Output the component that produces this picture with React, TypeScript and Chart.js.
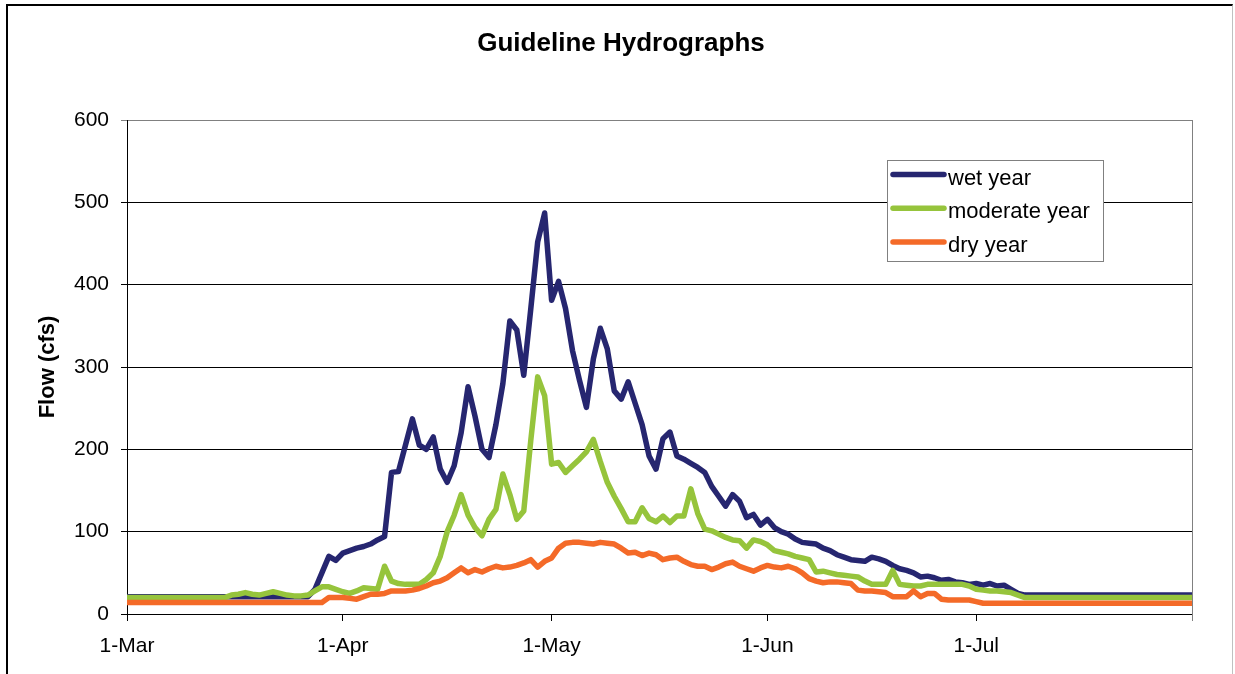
import React, { useEffect, useRef } from "react";
import { Chart, registerables } from "chart.js";

Chart.register(...registerables);

const chartTitle = "Guideline Hydrographs";
const yAxisTitle = "Flow (cfs)";
const seriesNames = ["wet year", "moderate year", "dry year"];
const seriesColors = ["#262670", "#96c43c", "#f46a28"];

const xTickDays = [0, 31, 61, 92, 122, 153];
const xTickLabels = ["1-Mar", "1-Apr", "1-May", "1-Jun", "1-Jul", ""];

// daily flow (cfs), day 0 = 1-Mar ... day 153 = 1-Aug
const wetYear = [
  21, 21, 21, 21, 21, 21, 21, 21, 21, 21, 21, 21, 21, 21, 21, 21, 21, 21, 21, 21, 21, 21, 21, 21, 21, 21, 21,
  30, 50, 70, 65, 74, 77, 80, 82, 85, 90, 94, 172, 173, 205, 237, 205, 200, 215, 176, 160, 180, 220, 276,
  240, 200, 190, 230, 280, 356, 345, 290, 370, 452, 487, 381, 404, 371, 320, 284, 251, 310, 347, 322,
  271, 261, 282, 256, 230, 192, 176, 213, 221, 192, 188, 183, 178, 172, 155, 143, 131, 145, 137, 117,
  121, 108, 115, 105, 100, 97, 91, 87, 86, 85, 80, 77, 72, 69, 66, 65, 64, 69, 67, 64,
  59, 55, 53, 50, 45, 46, 44, 41, 42, 39, 38, 36, 37, 35, 37, 34, 35, 30, 25,
  23, 23, 23, 23, 23, 23, 23, 23, 23, 23, 23, 23, 23, 23, 23, 23, 23, 23, 23, 23, 23, 23, 23, 23, 23,
];

const moderateYear = [
  20, 20, 20, 20, 20, 20, 20, 20, 20, 20, 20, 20, 20, 20, 20,
  23, 24, 26, 24, 23, 25, 27, 25, 23, 22, 22, 23, 28, 33, 33, 30, 27, 25, 28, 32, 31, 30, 58, 40, 37,
  36, 36, 36, 42, 50, 70, 100, 120, 145, 120, 105, 95, 115, 127, 170, 145, 115, 125, 210, 288,
  265, 182, 184, 172, 180, 188, 197, 212, 185, 160, 143, 128, 112, 112, 129, 116, 112, 119, 111, 119,
  119, 152, 122, 103, 101, 97, 93, 90, 89, 80, 90, 88, 84, 77, 75, 73, 70, 68, 66, 51,
  52, 50, 48, 47, 46, 45, 40, 36, 36, 36, 53, 36, 35, 34, 34, 36, 36, 36, 36, 36,
  36, 34, 30, 29, 28, 28, 27, 26, 23,
  20, 20, 20, 20, 20, 20, 20, 20, 20, 20, 20, 20, 20, 20, 20, 20, 20, 20, 20, 20, 20, 20, 20, 20, 20,
];

const dryYear = [
  14, 14, 14, 14, 14, 14, 14, 14, 14, 14, 14, 14, 14, 14, 14, 14, 14, 14, 14, 14, 14, 14, 14, 14, 14, 14, 14, 14, 14,
  20, 20, 20, 19, 18, 21, 24, 24, 25, 28, 28, 28, 29, 31, 34, 38, 40, 44, 50, 56, 50,
  54, 51, 55, 58, 56, 57, 59, 62, 66, 57, 64, 68, 80, 86, 87, 87, 86, 85, 87, 86,
  85, 80, 74, 75, 71, 74, 72, 66, 68, 69, 64, 60, 58, 58, 54, 57, 61, 63, 58, 55,
  52, 56, 59, 57, 56, 58, 55, 50, 43, 40, 38, 39, 39, 38, 37, 29, 28, 28, 27, 26,
  21, 21, 21, 28, 21, 25, 25, 18, 17, 17, 17, 17, 15,
  13, 13, 13, 13, 13, 13, 13, 13, 13, 13, 13, 13, 13, 13, 13, 13, 13, 13, 13, 13, 13, 13, 13, 13, 13, 13, 13, 13, 13, 13, 13,
];

const allSeries = [wetYear, moderateYear, dryYear];

const FONT = "Arial, 'Liberation Sans', Helvetica, sans-serif";

const overlayPlugin = {
  id: "overlay",
  beforeDatasetsDraw(chart: any) {
    const { ctx, chartArea } = chart;
    ctx.save();
    ctx.strokeStyle = "#808080";
    ctx.lineWidth = 1;
    const x = Math.round(chartArea.right) + 0.5;
    ctx.beginPath();
    ctx.moveTo(x, chartArea.top);
    ctx.lineTo(x, chartArea.bottom + 7);
    ctx.stroke();
    ctx.restore();
  },
  afterDraw(chart: any) {
    const { ctx } = chart;
    ctx.save();
    // title
    ctx.fillStyle = "#000";
    ctx.font = `bold 26px ${FONT}`;
    ctx.textAlign = "center";
    ctx.textBaseline = "alphabetic";
    ctx.fillText(chartTitle, 621, 51);
    // legend
    const bx = 887, by = 160, bw = 216, bh = 101;
    ctx.fillStyle = "#ffffff";
    ctx.fillRect(bx, by, bw, bh);
    ctx.strokeStyle = "#808080";
    ctx.lineWidth = 1;
    ctx.strokeRect(bx + 0.5, by + 0.5, bw, bh);
    ctx.font = `22px ${FONT}`;
    ctx.textAlign = "left";
    chart.data.datasets.forEach((ds: any, i: number) => {
      const ly = 174.5 + i * 33.7;
      ctx.strokeStyle = ds.borderColor;
      ctx.lineWidth = 5.5;
      ctx.lineCap = "round";
      ctx.beginPath();
      ctx.moveTo(893, ly);
      ctx.lineTo(944, ly);
      ctx.stroke();
      ctx.fillStyle = "#000";
      ctx.fillText(ds.label, 948, ly + 10);
    });
    ctx.restore();
  },
};

export default function App() {
  const ref = useRef<HTMLCanvasElement>(null);
  useEffect(() => {
    const canvas = ref.current!;
    const chart = new Chart(canvas, {
      type: "line",
      data: {
        datasets: allSeries.map((vals, i) => ({
          label: seriesNames[i],
          data: vals.map((v, d) => ({ x: d, y: v })),
          borderColor: seriesColors[i],
          backgroundColor: seriesColors[i],
          borderWidth: 5.5,
          pointRadius: 0,
          borderJoinStyle: "round" as const,
          borderCapStyle: "round" as const,
          tension: 0,
          fill: false,
          order: 3 - i,
        })),
      },
      options: {
        responsive: false,
        animation: false,
        layout: { padding: { left: 0, right: 43, top: 120, bottom: 0 } },
        plugins: {
          legend: { display: false },
          tooltip: { enabled: false },
          title: { display: false },
        },
        scales: {
          x: {
            type: "linear",
            min: 0,
            max: 153,
            afterFit: (s: any) => {
              s.height = 60;
            },
            afterBuildTicks: (s: any) => {
              s.ticks = xTickDays.map((v) => ({ value: v }));
            },
            ticks: {
              autoSkip: false,
              maxRotation: 0,
              color: "#000",
              padding: 13,
              font: { family: FONT, size: 21 },
              callback: (v: any) => {
                const idx = xTickDays.indexOf(Number(v));
                return idx >= 0 ? xTickLabels[idx] : "";
              },
            },
            grid: {
              drawOnChartArea: false,
              drawTicks: true,
              tickLength: 7,
              color: "#000",
            },
            border: { color: "#000", width: 1 },
          },
          y: {
            min: 0,
            max: 600,
            afterFit: (s: any) => {
              s.width = 127;
            },
            ticks: {
              stepSize: 100,
              color: "#000",
              padding: 12,
              font: { family: FONT, size: 21 },
            },
            grid: {
              color: (c: any) => (c.tick && c.tick.value === 600 ? "#808080" : "#000"),
              tickLength: 6,
              lineWidth: 1,
            },
            border: { color: "#000", width: 1 },
            title: {
              display: true,
              text: yAxisTitle,
              color: "#000",
              font: { family: FONT, size: 22, weight: "bold" },
              padding: { top: 35, bottom: 0 },
            },
          },
        },
      },
      plugins: [overlayPlugin],
    });
    return () => chart.destroy();
  }, []);

  return (
    <div
      style={{
        position: "fixed",
        left: 0,
        top: 0,
        width: 1235,
        height: 674,
        overflow: "hidden",
        background: "#ffffff",
      }}
    >
      <canvas ref={ref} width={1235} height={674} style={{ display: "block" }} />
      <div
        style={{
          position: "absolute",
          left: 6,
          top: 4,
          width: 1227,
          height: 720,
          boxSizing: "border-box",
          borderLeft: "2px solid #000",
          borderTop: "2px solid #000",
          borderRight: "1px solid #c0c0c0",
          pointerEvents: "none",
        }}
      />
    </div>
  );
}
